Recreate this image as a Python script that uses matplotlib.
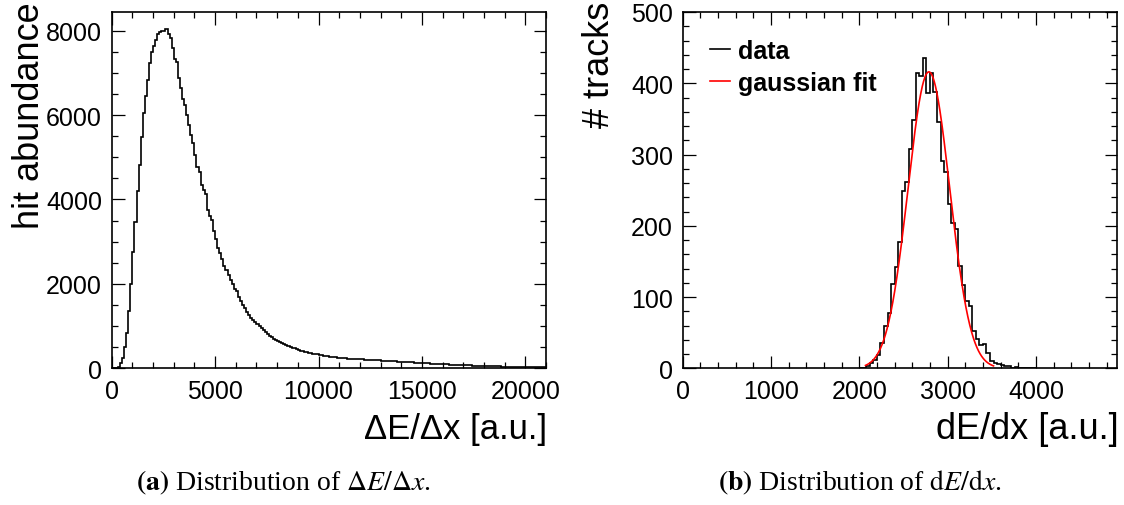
import numpy as np
import matplotlib.pyplot as plt
from matplotlib.ticker import MultipleLocator
from matplotlib.lines import Line2D

plt.rcParams["font.family"] = ["Liberation Sans", "DejaVu Sans"]
plt.rcParams["mathtext.fontset"] = "stix"

# ── data: left panel, hit-level dE/dx (bins of 100 from 0 to 21000) ──
hit_edges = np.arange(0, 21001, 100)
hit_counts = [
    0, 0, 3, 30, 115, 255, 510, 840, 1360, 1990,
    2760, 3460, 4190, 4820, 5470, 6050, 6450, 6830, 7230, 7490,
    7640, 7780, 7930, 7960, 7980, 7990, 8050, 7910, 7820, 7600,
    7340, 7250, 6880, 6640, 6380, 6250, 5990, 5760, 5520, 5330,
    5060, 4780, 4640, 4350, 4230, 4130, 3750, 3600, 3520, 3250,
    3070, 2850, 2740, 2590, 2430, 2330, 2200, 2090, 1990, 1870,
    1820, 1700, 1600, 1490, 1430, 1330, 1270, 1190, 1150, 1090,
    1040, 1000, 945, 900, 850, 815, 770, 745, 700, 672,
    650, 618, 592, 566, 548, 522, 508, 480, 472, 448,
    432, 418, 408, 388, 382, 364, 356, 346, 334, 331,
    322, 308, 302, 288, 282, 274, 271, 260, 259, 252,
    248, 246, 240, 239, 231, 231, 225, 223, 219, 217,
    213, 211, 206, 205, 199, 199, 194, 193, 189, 187,
    183, 181, 177, 176, 170, 169, 164, 164, 159, 158,
    154, 152, 148, 147, 141, 140, 135, 134, 129, 128,
    124, 122, 117, 117, 112, 111, 106, 105, 101, 100,
    97, 95, 91, 90, 86, 86, 81, 81, 77, 77,
    74, 73, 69, 69, 65, 65, 61, 61, 57, 57,
    55, 54, 50, 51, 47, 48, 44, 45, 41, 42,
    40, 39, 37, 37, 35, 34, 32, 32, 30, 30,
    28, 27, 26, 25, 24, 23, 22, 21, 21, 20,
]

# ── data: right panel, track-level dE/dx (bins of 40 from 2000 to 4000) ──
trk_edges = np.arange(2000, 4001, 40)
trk_counts = [
    0, 1, 3, 7, 12, 19, 36, 59, 78, 118,
    142, 177, 249, 261, 308, 348, 414, 410, 436, 386,
    415, 388, 346, 291, 275, 231, 204, 195, 144, 117,
    94, 87, 52, 41, 32, 34, 22, 10, 8, 6,
    4, 3, 3, 1, 2, 1, 1, 0, 1, 0,
]

# gaussian fit parameters
fit_amp, fit_mean, fit_sigma = 416.0, 2788.0, 236.0
fit_lo, fit_hi = 2070.0, 3520.0

W, H = 1124, 506
fig = plt.figure(figsize=(W / 100, H / 100), dpi=100)

bot = 1 - 369.3 / H
top = 1 - 13 / H
axL = fig.add_axes([111.7 / W, bot, (546 - 111.7) / W, top - bot])
axR = fig.add_axes([682.7 / W, bot, (1116.7 - 682.7) / W, top - bot])


def root_style(ax):
    ax.tick_params(which="both", direction="in", top=True, right=True,
                   labelsize=18, width=0.9)
    ax.tick_params(which="major", length=9)
    ax.tick_params(which="minor", length=4.5)
    ax.tick_params(axis="x", pad=8)
    ax.tick_params(axis="y", pad=7)
    for s in ax.spines.values():
        s.set_linewidth(1.2)


# ── left ──
axL.stairs(hit_counts, hit_edges, color="black", linewidth=1.2)
axL.set_xlim(0, 21000)
axL.set_ylim(0, 8442)
axL.xaxis.set_major_locator(MultipleLocator(5000))
axL.xaxis.set_minor_locator(MultipleLocator(1000))
axL.yaxis.set_major_locator(MultipleLocator(2000))
axL.yaxis.set_minor_locator(MultipleLocator(500))
root_style(axL)

# ── right ──
axR.stairs(trk_counts, trk_edges, color="black", linewidth=1.2)
xf = np.linspace(fit_lo, fit_hi, 400)
axR.plot(xf, fit_amp * np.exp(-0.5 * ((xf - fit_mean) / fit_sigma) ** 2),
         color="red", linewidth=1.2)
axR.set_xlim(0, 4915)
axR.set_ylim(0, 500)
axR.xaxis.set_major_locator(MultipleLocator(1000))
axR.xaxis.set_minor_locator(MultipleLocator(200))
axR.yaxis.set_major_locator(MultipleLocator(100))
axR.yaxis.set_minor_locator(MultipleLocator(20))
root_style(axR)

handles = [Line2D([], [], color="black", lw=1.2), Line2D([], [], color="red", lw=1.2)]
axR.legend(handles, ["data", "gaussian fit"], loc="upper left",
           bbox_to_anchor=(0.063, 0.925), frameon=False, borderpad=0,
           borderaxespad=0, prop={"weight": "bold", "size": 18},
           handlelength=0.8, handletextpad=0.3, labelspacing=0.32)

# axis titles, ROOT style (right/top aligned)
fig.text(30 / W, 1 - 2 / H, "hit abundance", rotation=90, ha="center", va="top", fontsize=26)
fig.text(600 / W, 1 - 2 / H, "# tracks", rotation=90, ha="center", va="top", fontsize=26)
fig.text(547 / W, 1 - 430 / H, "ΔE/Δx [a.u.]", ha="right", va="center", fontsize=25)
fig.text(1119 / W, 1 - 430 / H, "dE/dx [a.u.]", ha="right", va="center", fontsize=26)

# captions
cap = dict(ha="center", va="center", fontsize=20, family="Liberation Serif")
fig.text(283 / W, 1 - 483 / H, r"$\mathbf{(a)}$ Distribution of $\Delta E/\Delta x$.", **cap)
fig.text(860 / W, 1 - 483 / H, r"$\mathbf{(b)}$ Distribution of $\mathrm{d}E/\mathrm{d}x$.", **cap)

fig.savefig("out.png", dpi=100)
